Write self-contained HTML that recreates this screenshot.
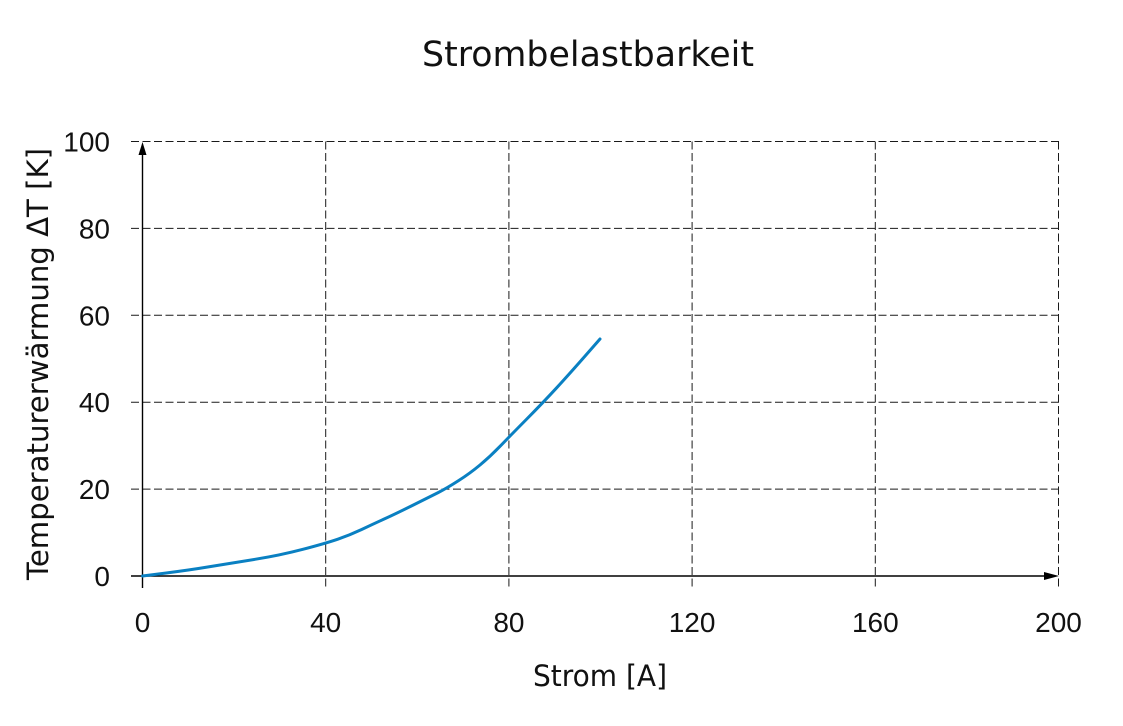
<!DOCTYPE html>
<html>
<head>
<meta charset="utf-8">
<style>
  html, body { margin:0; padding:0; background:#fff; }
  svg { display:block; }
</style>
</head>
<body>
<svg width="1123" height="726" viewBox="0 0 1123 726" xmlns="http://www.w3.org/2000/svg">
  <rect width="1123" height="726" fill="#fff"/>
  <!-- title -->
  <text x="588" y="66" font-family="DejaVu Sans, Liberation Sans, sans-serif" font-size="35" text-anchor="middle" textLength="332" lengthAdjust="spacingAndGlyphs" fill="#111">Strombelastbarkeit</text>

  <!-- grid -->
  <g stroke="#1a1a1a" stroke-width="1" stroke-dasharray="8,3.5" fill="none">
    <line x1="131" y1="141.5" x2="1059" y2="141.5"/>
    <line x1="131" y1="228.4" x2="1059" y2="228.4"/>
    <line x1="131" y1="315.3" x2="1059" y2="315.3"/>
    <line x1="131" y1="402.2" x2="1059" y2="402.2"/>
    <line x1="131" y1="489.1" x2="1059" y2="489.1"/>
    <line x1="325.7" y1="141.5" x2="325.7" y2="588"/>
    <line x1="508.9" y1="141.5" x2="508.9" y2="588"/>
    <line x1="692.1" y1="141.5" x2="692.1" y2="588"/>
    <line x1="875.3" y1="141.5" x2="875.3" y2="588"/>
    <line x1="1058.5" y1="141.5" x2="1058.5" y2="588"/>
  </g>

  <!-- axes -->
  <g stroke="#000" stroke-width="1.4" fill="none">
    <line x1="142.5" y1="588" x2="142.5" y2="152"/>
    <line x1="131" y1="576" x2="1046" y2="576"/>
  </g>
  <polygon points="142.5,142 138.5,155 146.5,155" fill="#000"/>
  <polygon points="1059,576 1044,572 1044,580" fill="#000"/>

  <!-- curve -->
  <path fill="none" stroke="#0a80c2" stroke-width="3" stroke-linejoin="round" stroke-linecap="round"
    d="M142.5,576 L166.25,573 Q190,570 210,566.65 Q230,563.3 255,559.3 Q280,555.3 302.85,549.3 Q325.7,543.3 337.85,539.15 Q350,535 361.65,529.5 Q373.3,524 385,518.65 Q396.7,513.3 413.35,505 Q430,496.7 438.35,492.5 Q446.7,488.3 458.35,480.8 Q470,473.3 480,465 Q490,456.7 499.65,446.7 Q509.3,436.7 526.3,419.5 Q543.3,402.3 556.65,387.8 Q570,373.3 585,356.15 L600,339"/>

  <!-- y tick labels -->
  <g font-family="Liberation Sans, DejaVu Sans, sans-serif" font-size="28" fill="#111" text-anchor="end">
    <text x="110" y="151.5">100</text>
    <text x="110" y="238.4">80</text>
    <text x="110" y="325.3">60</text>
    <text x="110" y="412.2">40</text>
    <text x="110" y="499.1">20</text>
    <text x="110" y="586">0</text>
  </g>
  <!-- x tick labels -->
  <g font-family="Liberation Sans, DejaVu Sans, sans-serif" font-size="28" fill="#111" text-anchor="middle">
    <text x="142.5" y="632">0</text>
    <text x="325.7" y="632">40</text>
    <text x="508.9" y="632">80</text>
    <text x="692.1" y="632">120</text>
    <text x="875.3" y="632">160</text>
    <text x="1058.5" y="632">200</text>
  </g>

  <!-- axis labels -->
  <text x="600" y="686" font-family="DejaVu Sans, Liberation Sans, sans-serif" font-size="29" text-anchor="middle" textLength="134" lengthAdjust="spacingAndGlyphs" fill="#111">Strom [A]</text>
  <text transform="translate(48,364) rotate(-90)" x="0" y="0" font-family="DejaVu Sans, Liberation Sans, sans-serif" font-size="29" text-anchor="middle" textLength="432" lengthAdjust="spacingAndGlyphs" fill="#111">Temperaturerwärmung ΔT [K]</text>
</svg>
</body>
</html>
